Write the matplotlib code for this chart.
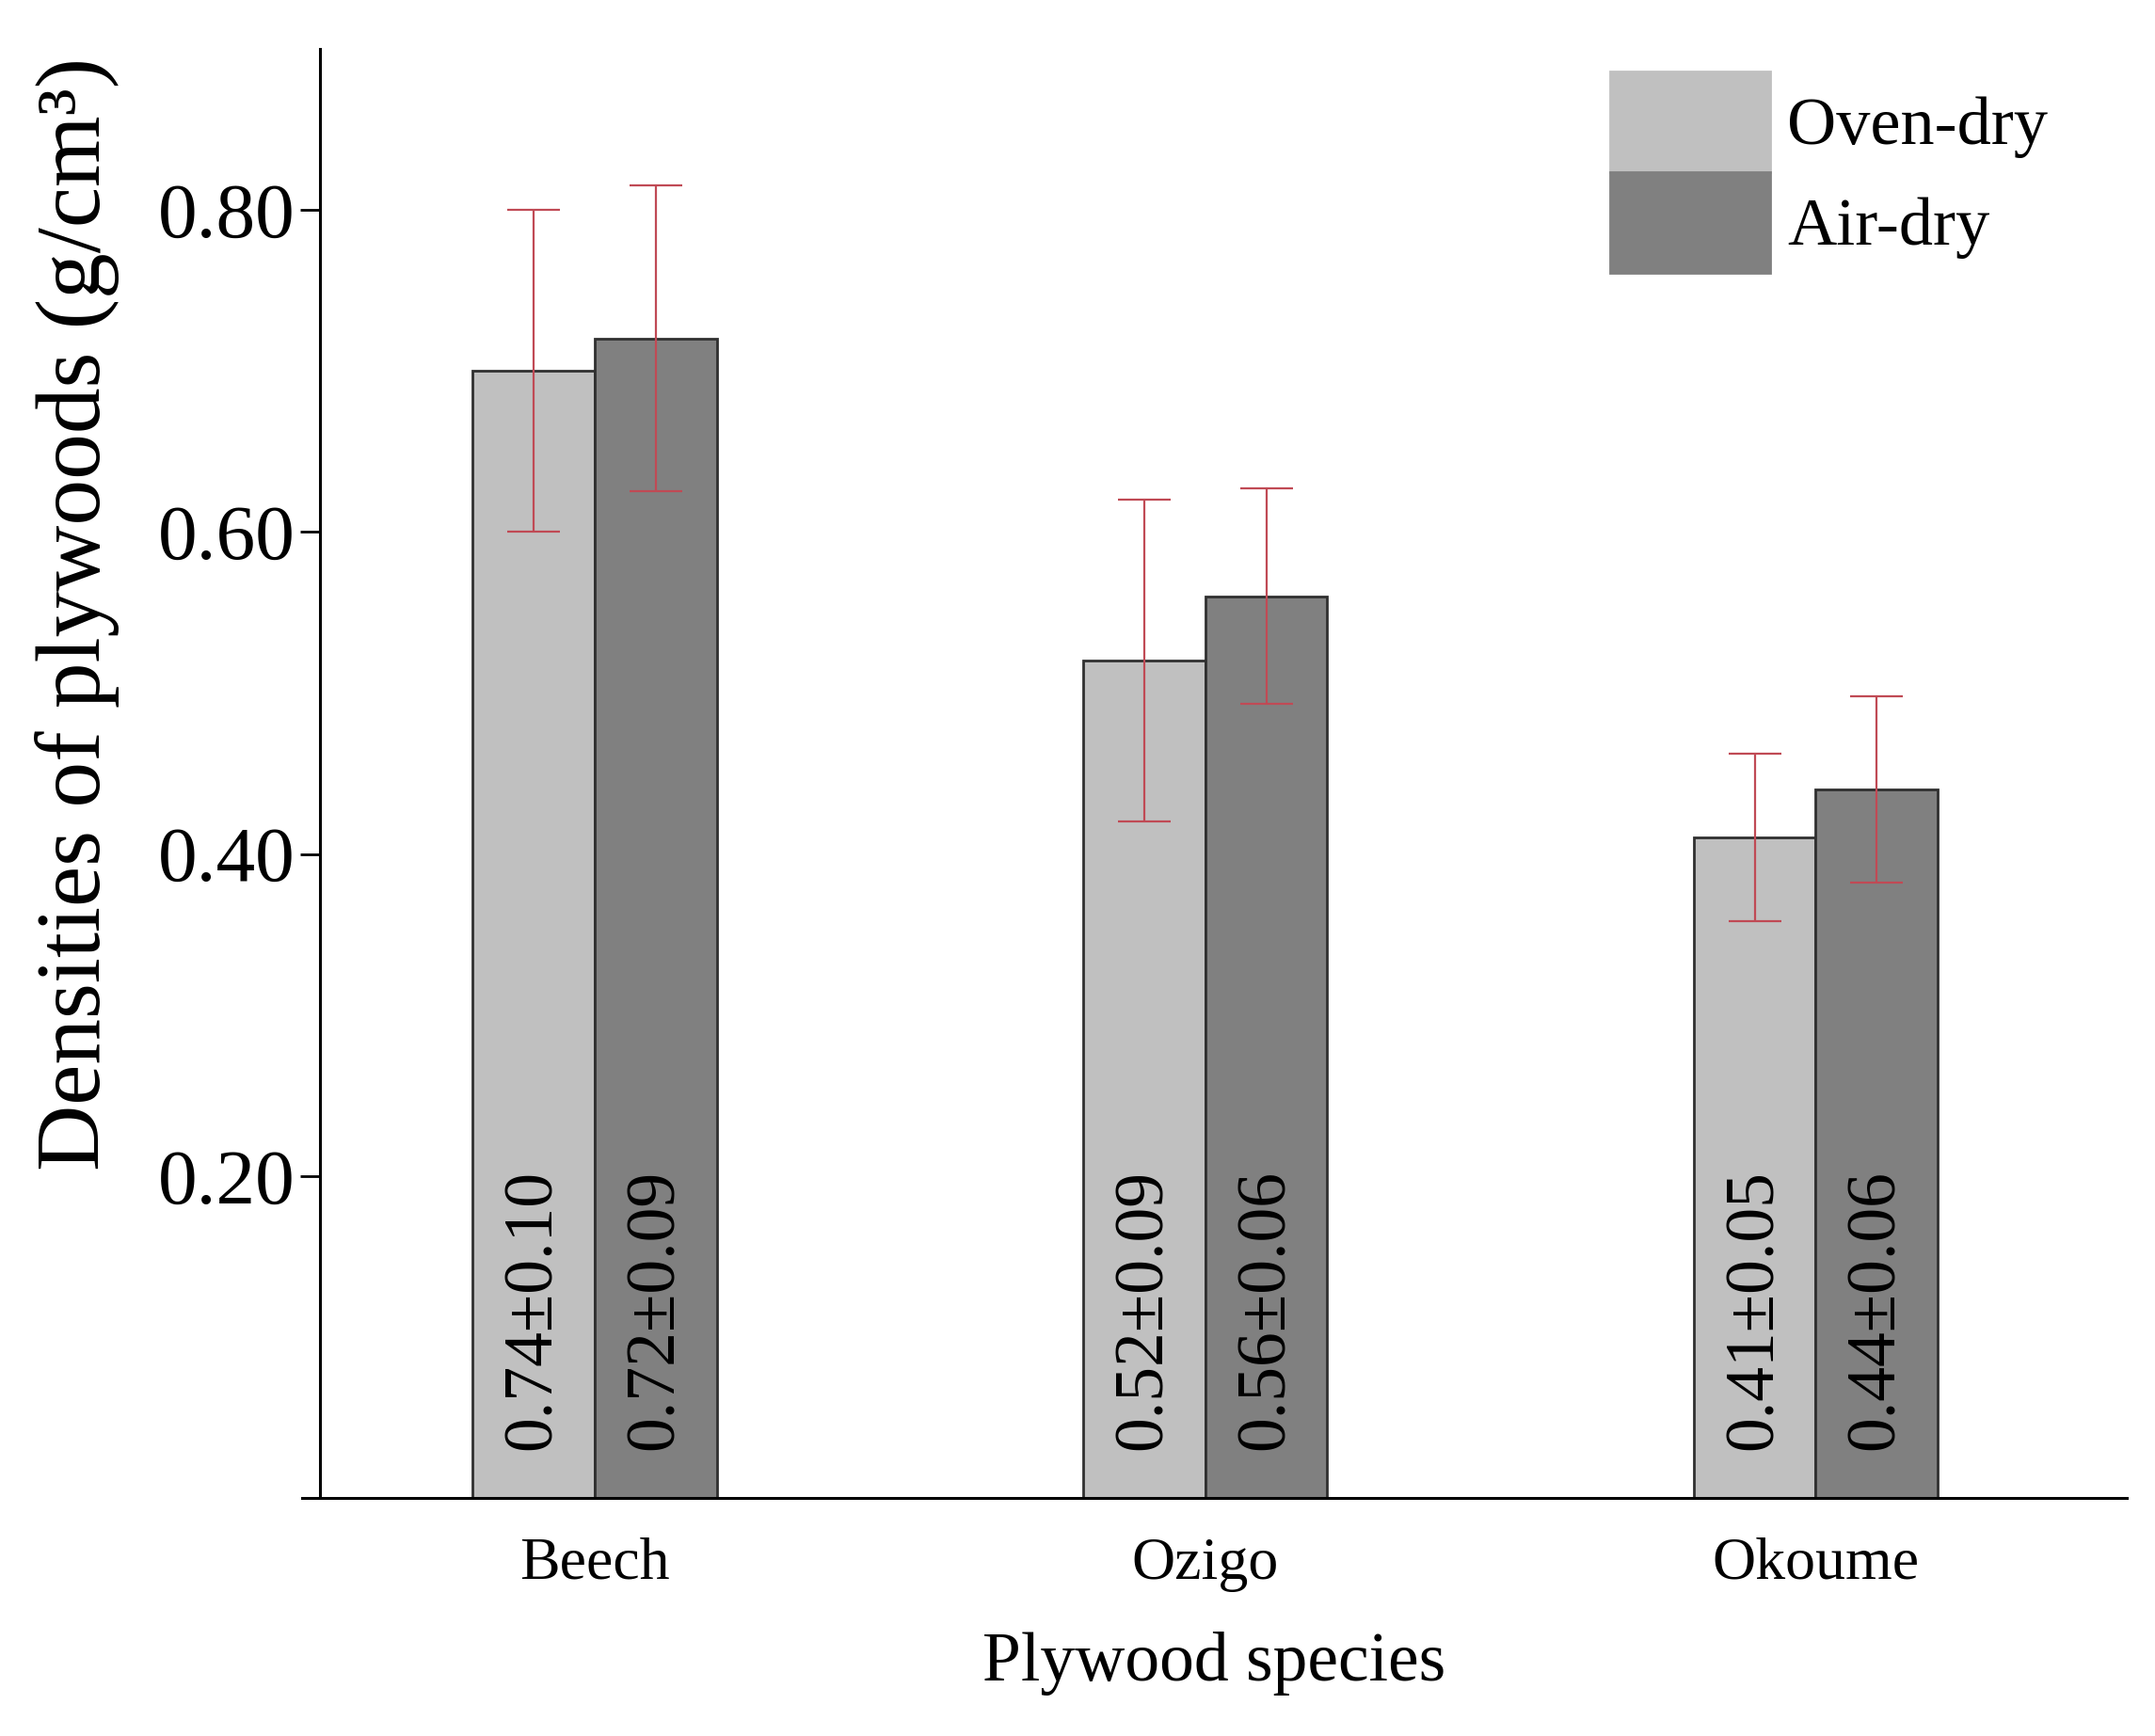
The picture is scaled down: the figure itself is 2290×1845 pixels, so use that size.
import numpy as np
import matplotlib.pyplot as plt

species = ['Beech', 'Ozigo', 'Okoume']
oven_dry = [0.70, 0.52, 0.41]
air_dry = [0.72, 0.56, 0.44]
oven_err = [0.10, 0.10, 0.052]
air_err = [0.095, 0.067, 0.058]
oven_text = ['0.74±0.10', '0.52±0.09', '0.41±0.05']
air_text = ['0.72±0.09', '0.56±0.06', '0.44±0.06']

plt.rcParams['font.family'] = ['Liberation Serif', 'DejaVu Serif']

fig = plt.figure(figsize=(22.9, 18.45), dpi=100)
ax = fig.add_axes([0.140, 0.137, 0.847, 0.835])

x = np.arange(len(species))
w = 0.2
err_kw = dict(ecolor='#c04a55', elinewidth=1.6, capsize=20, capthick=1.6)

b1 = ax.bar(x - w / 2, oven_dry, w, color='#c0c0c0', edgecolor='#303030', linewidth=2,
            yerr=oven_err, error_kw=err_kw, label='Oven-dry')
b2 = ax.bar(x + w / 2, air_dry, w, color='#808080', edgecolor='#303030', linewidth=2,
            yerr=air_err, error_kw=err_kw, label='Air-dry')

for xi, t in zip(x - w / 2, oven_text):
    ax.text(xi, 0.03, t, rotation=90, ha='center', va='bottom', fontsize=53)
for xi, t in zip(x + w / 2, air_text):
    ax.text(xi, 0.03, t, rotation=90, ha='center', va='bottom', fontsize=53)

ax.set_xlim(-0.48, 2.51)
ax.set_ylim(0, 0.90)
ax.spines['left'].set_position(('data', -0.45))
ax.spines['top'].set_visible(False)
ax.spines['right'].set_visible(False)
ax.spines['left'].set_linewidth(2.2)
ax.spines['bottom'].set_linewidth(2.2)

ax.set_yticks([0.20, 0.40, 0.60, 0.80])
ax.set_yticklabels(['%.2f' % v for v in [0.20, 0.40, 0.60, 0.80]])
ax.tick_params(axis='y', direction='out', length=15, width=2, pad=4, labelsize=60)
ax.set_xticks(x)
ax.set_xticklabels(species)
ax.tick_params(axis='x', length=0, pad=30, labelsize=46)

ax.set_xlabel('Plywood species', fontsize=53, labelpad=30)
ax.set_ylabel('Densities of plywoods (g/cm³)', fontsize=70)
ax.yaxis.set_label_coords(-0.100, 0.61)

leg = ax.legend(loc='upper left', bbox_to_anchor=(0.717, 0.984), frameon=False, fontsize=52,
                handlelength=2.35, handleheight=1.9, labelspacing=0, handletextpad=0.25,
                borderpad=0, borderaxespad=0)
for h in leg.legend_handles:
    h.set_edgecolor(h.get_facecolor())

plt.savefig('out.png', dpi=100)
